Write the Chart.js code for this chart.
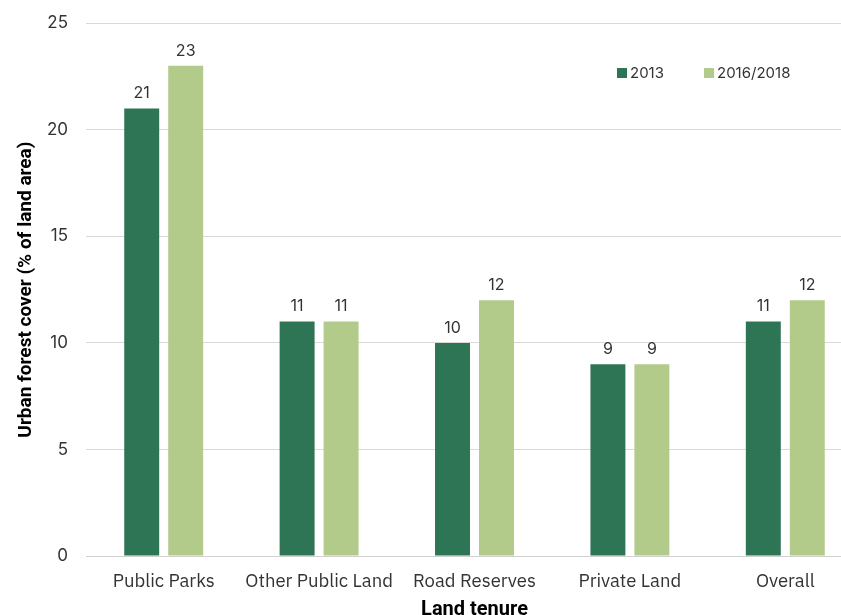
<!DOCTYPE html>
<html>
<head>
<meta charset="utf-8">
<script src="https://cdn.jsdelivr.net/npm/chart.js@4"></script>
<style>
  html, body { margin: 0; padding: 0; background: #fff; overflow: hidden; }
  #wrap { width: 841px; height: 615px; overflow: hidden; }
  #chart { display: block; margin-top: -5px; }
</style>
</head>
<body>
<div id="wrap"><canvas id="chart" width="863" height="625"></canvas></div>
<script>
const categories = ['Public Parks', 'Other Public Land', 'Road Reserves', 'Private Land', 'Overall'];
const series2013 = [21, 11, 10, 9, 11];
const series2016 = [23, 11, 12, 9, 12];
const yTicks = [0, 5, 10, 15, 20, 25];

const darkGreen = '#2e7555';
const lightGreen = '#b3cb8a';
const textColor = '#333333';

// value labels above bars
const barLabels = {
  id: 'barLabels',
  afterDatasetsDraw(chart) {
    const ctx = chart.ctx;
    ctx.save();
    ctx.font = '16px Inter, "Open Sans", sans-serif';
    ctx.fillStyle = textColor;
    ctx.textAlign = 'center';
    ctx.textBaseline = 'bottom';
    chart.data.datasets.forEach((ds, i) => {
      chart.getDatasetMeta(i).data.forEach((bar, j) => {
        ctx.fillText(ds.data[j], bar.x, bar.y - 7);
      });
    });
    ctx.restore();
  }
};

// legend drawn inside the plot, top right
const insideLegend = {
  id: 'insideLegend',
  afterDraw(chart) {
    const ctx = chart.ctx;
    const y = 78; // canvas is shifted up 5px
    let x = 617;
    ctx.save();
    ctx.font = '15px Inter, "Open Sans", sans-serif';
    ctx.textBaseline = 'middle';
    ctx.textAlign = 'left';
    chart.data.datasets.forEach((ds) => {
      ctx.fillStyle = ds.backgroundColor;
      ctx.fillRect(x, y - 5, 10, 10);
      ctx.fillStyle = textColor;
      ctx.fillText(ds.label, x + 13, y);
      x += 87;
    });
    ctx.restore();
  }
};

new Chart(document.getElementById('chart'), {
  type: 'bar',
  data: {
    labels: categories,
    datasets: [
      { label: '2013', data: series2013, backgroundColor: darkGreen,
        barPercentage: 0.795, categoryPercentage: 0.566 },
      { label: '2016/2018', data: series2016, backgroundColor: lightGreen,
        barPercentage: 0.795, categoryPercentage: 0.566 }
    ]
  },
  options: {
    responsive: false,
    animation: false,
    layout: { padding: { top: 3, right: 0, bottom: 0, left: 17 } },
    plugins: {
      legend: { display: false },
      tooltip: { enabled: false }
    },
    scales: {
      x: {
        afterFit(axis) { axis.height = 64; },
        grid: { display: false, drawTicks: false },
        border: { color: '#d0d0d0', width: 1 },
        ticks: {
          color: textColor,
          padding: 16,
          font: { family: '"IBM Plex Sans", "Open Sans", sans-serif', size: 18.5, lineHeight: 1 }
        },
        title: {
          display: true,
          text: 'Land tenure',
          color: '#000',
          padding: { top: 0, bottom: 0 },
          font: { family: 'Roboto, "Open Sans", sans-serif', size: 20, weight: 'bold', lineHeight: 1 }
        }
      },
      y: {
        min: 0,
        max: 25,
        afterFit(axis) { axis.width = 69; },
        afterBuildTicks(axis) { axis.ticks = yTicks.map(v => ({ value: v })); },
        grid: { color: '#d9d9d9', drawTicks: false },
        border: { display: false },
        ticks: {
          color: textColor,
          padding: 18,
          font: { family: 'Inter, "Open Sans", sans-serif', size: 17 }
        },
        title: {
          display: true,
          text: 'Urban forest cover (% of land area)',
          color: '#000',
          padding: { top: 0, bottom: 0 },
          font: { family: 'Roboto, "Open Sans", sans-serif', size: 19, weight: 'bold', lineHeight: 1 }
        }
      }
    }
  },
  plugins: [barLabels, insideLegend]
});
</script>
</body>
</html>
